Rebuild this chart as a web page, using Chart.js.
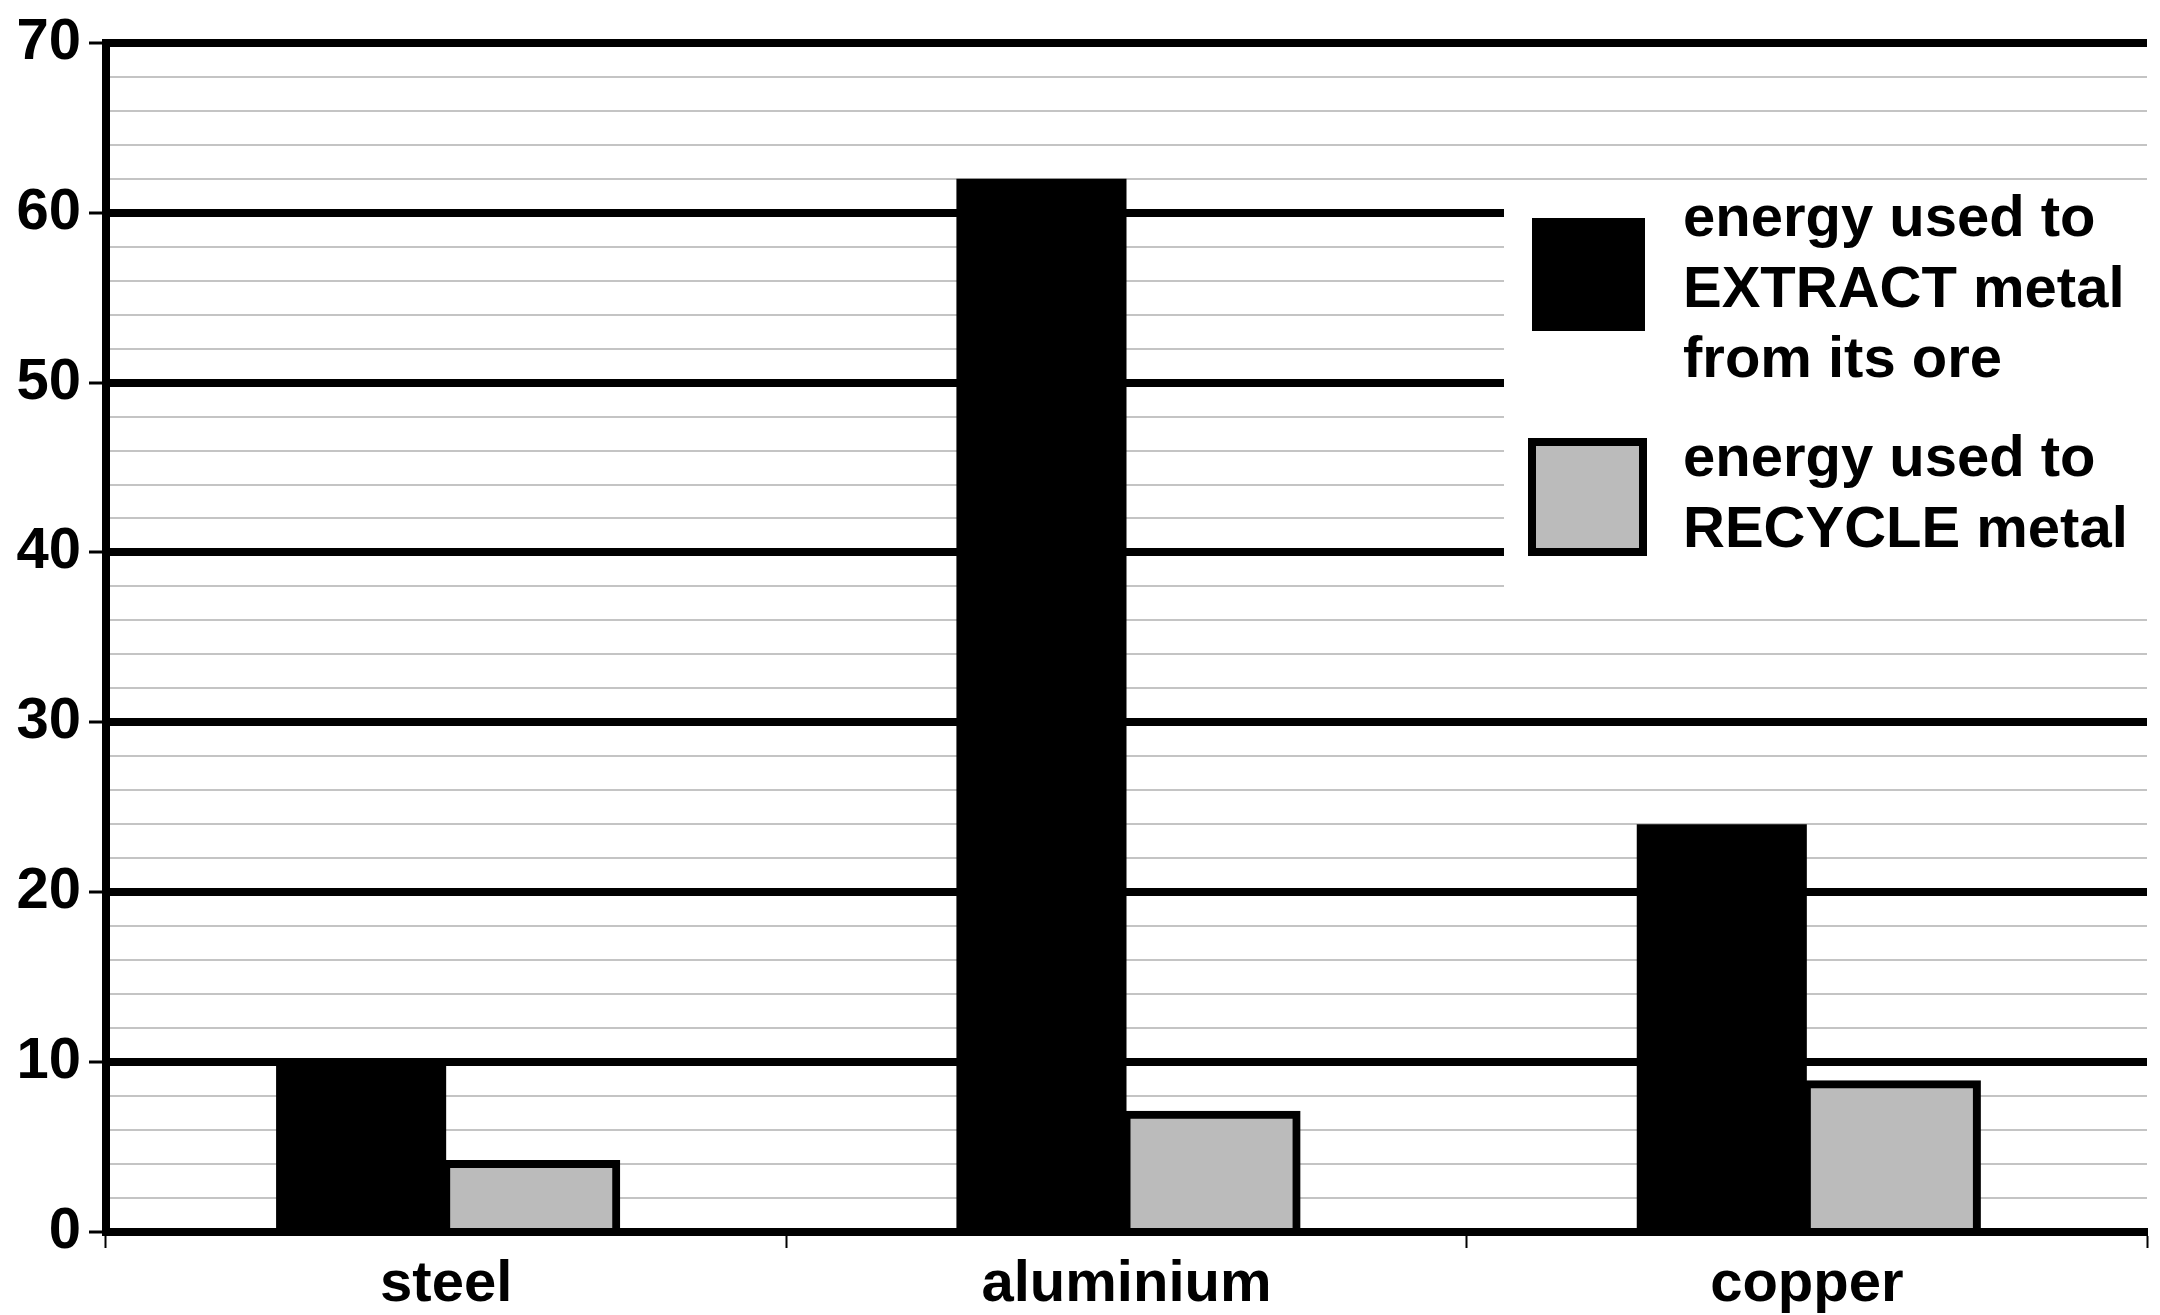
<!DOCTYPE html>
<html>
<head>
<meta charset="utf-8">
<title>Energy used to extract and recycle metals</title>
<script src="https://cdn.jsdelivr.net/npm/chart.js@4/dist/chart.umd.min.js"></script>
<style>
  html, body { margin: 0; padding: 0; background: #ffffff; }
  #wrap { width: 2160px; height: 1315px; position: relative; }
</style>
</head>
<body>
<div id="wrap"><canvas id="chart"></canvas></div>
<script>
// Metals compared
const categories = ['steel', 'aluminium', 'copper'];

// Energy needed per metal
const extractValues = [10, 62, 24];
const recycleValues = [4, 6.9, 8.7];

// Legend text, one entry per line
const extractLabelLines = ['energy used to', 'EXTRACT metal', 'from its ore'];
const recycleLabelLines = ['energy used to', 'RECYCLE metal'];

// Axis range and labelled ticks
const yMin = 0;
const yMax = 70;
const yMinorStep = 2;
const yMajorStep = 10;

const FONT = '"Liberation Sans", Arial, Helvetica, sans-serif';
const isMajor = v => Math.abs(v % yMajorStep) < 1e-9;

// Legend box drawn on a white panel inside the plot area
const legendPanel = {
  id: 'legendPanel',
  afterDraw(chart) {
    const ctx = chart.ctx;
    const ds = chart.data.datasets;
    const y = chart.scales.y;
    const area = chart.chartArea;
    const top = y.getPixelForValue(61);
    const bottom = y.getPixelForValue(37);
    ctx.save();
    ctx.fillStyle = '#ffffff';
    ctx.fillRect(1504, top, area.right - 1504 + 1, bottom - top);

    // swatch 1: solid black
    ctx.fillStyle = ds[0].backgroundColor;
    ctx.fillRect(1532, 218, 113, 113);

    // swatch 2: grey with black frame
    ctx.fillStyle = ds[1].backgroundColor;
    ctx.fillRect(1532, 442, 111, 110);
    ctx.lineWidth = 8;
    ctx.strokeStyle = ds[1].borderColor;
    ctx.strokeRect(1532, 442, 111, 110);

    ctx.fillStyle = '#000000';
    ctx.font = 'bold 58px ' + FONT;
    ctx.textAlign = 'left';
    ctx.textBaseline = 'alphabetic';
    const lineGap = 70.5;
    extractLabelLines.forEach((t, i) => ctx.fillText(t, 1683, 236 + i * lineGap));
    recycleLabelLines.forEach((t, i) => ctx.fillText(t, 1683, 476 + i * lineGap));
    ctx.restore();
  }
};

new Chart(document.getElementById('chart'), {
  type: 'bar',
  data: {
    labels: categories,
    datasets: [
      {
        label: extractLabelLines.join(' '),
        data: extractValues,
        backgroundColor: '#000000',
        borderColor: '#000000',
        borderWidth: 0,
        categoryPercentage: 0.5,
        barPercentage: 1.0
      },
      {
        label: recycleLabelLines.join(' '),
        data: recycleValues,
        backgroundColor: '#bbbbbb',
        borderColor: '#000000',
        borderWidth: 8,
        borderSkipped: 'start',
        // centre the frame on the bar edges
        inflateAmount: 4,
        categoryPercentage: 0.5,
        barPercentage: 1.0
      }
    ]
  },
  options: {
    responsive: true,
    maintainAspectRatio: false,
    animation: false,
    devicePixelRatio: 1,
    layout: { padding: { top: 42, right: 13, bottom: 0, left: 0 } },
    plugins: {
      legend: { display: false },
      tooltip: { enabled: false },
      title: { display: false }
    },
    scales: {
      x: {
        offset: true,
        grid: {
          offset: true,
          drawOnChartArea: false,
          drawTicks: true,
          tickLength: 16,
          tickWidth: 2,
          tickColor: '#000000'
        },
        border: { display: true, color: '#000000', width: 8, z: 1 },
        ticks: {
          color: '#000000',
          font: { family: FONT, size: 58, weight: 'bold' },
          padding: 2
        },
        afterFit(scale) { scale.height = 83; }
      },
      y: {
        min: yMin,
        max: yMax,
        grid: {
          drawOnChartArea: true,
          drawTicks: true,
          color: ctx => isMajor(ctx.tick.value) ? '#000000' : '#c4c4c4',
          lineWidth: ctx => isMajor(ctx.tick.value) ? 8 : 2,
          tickColor: ctx => isMajor(ctx.tick.value) ? '#000000' : 'rgba(0,0,0,0)',
          tickWidth: 3,
          tickLength: 17
        },
        border: { display: true, color: '#000000', width: 8, z: 1 },
        ticks: {
          stepSize: yMinorStep,
          autoSkip: false,
          color: '#000000',
          padding: 8,
          font: { family: FONT, size: 58, weight: 'bold' },
          callback: v => isMajor(v) ? String(v) : ''
        },
        afterFit(scale) { scale.width = 106; }
      }
    }
  },
  plugins: [legendPanel]
});
</script>
</body>
</html>
